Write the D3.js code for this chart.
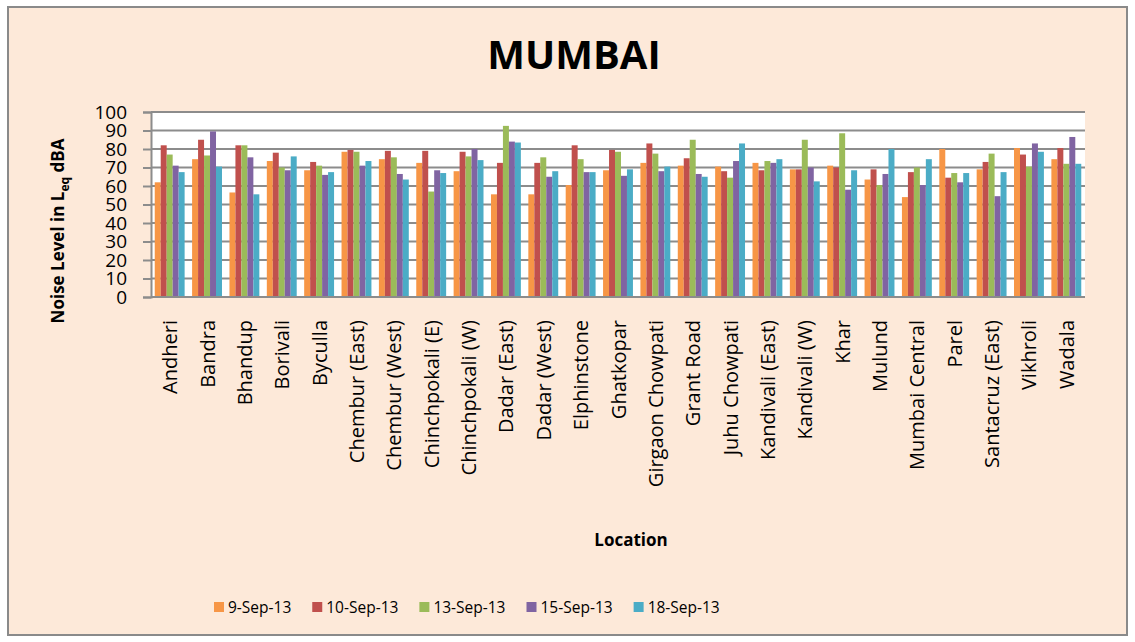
<!DOCTYPE html>
<html>
<head>
<meta charset="utf-8">
<script src="https://cdn.jsdelivr.net/npm/d3@7"></script>
<style>
  body { margin: 0; background: #fff; }
  text { font-family: "Open Sans", sans-serif; fill: #000; }
</style>
</head>
<body>
<div id="chart"></div>
<script>
const locations = ["Andheri", "Bandra", "Bhandup", "Borivali", "Byculla", "Chembur (East)", "Chembur (West)",
    "Chinchpokali (E)", "Chinchpokali (W)", "Dadar (East)", "Dadar (West)", "Elphinstone", "Ghatkopar",
    "Girgaon Chowpati", "Grant Road", "Juhu Chowpati", "Kandivali (East)", "Kandivali (W)", "Khar", "Mulund",
    "Mumbai Central", "Parel", "Santacruz (East)", "Vikhroli", "Wadala"];
const dates = ["9-Sep-13", "10-Sep-13", "13-Sep-13", "15-Sep-13", "18-Sep-13"];

const sep9  = [62, 74.5, 56.5, 73.5, 68.5, 78.5, 74.5, 72.5, 68, 55.5, 55.5, 60.5, 68.5, 72.5, 71, 70.5, 72.5, 69, 71, 63.5, 54, 80, 69, 80.5, 74.5];
const sep10 = [82, 85, 82, 78, 73, 79.5, 79, 79, 78.5, 72.5, 72.5, 82, 79.5, 83, 75, 68, 68.5, 69, 70, 69, 67.5, 64.5, 73, 77, 80.5];
const sep13 = [77, 76.5, 82, 70, 71, 78.5, 75.5, 57, 76, 92.5, 75.5, 74.5, 78.5, 77.5, 85, 64.5, 73.5, 85, 88.5, 60.5, 70, 67, 77.5, 70.5, 72];
const sep15 = [71, 89.5, 75.5, 68.5, 66, 71, 66.5, 68.5, 80, 84, 65, 67.5, 65.5, 68, 66.5, 73.5, 72.5, 70, 58, 66.5, 60.5, 62, 54.5, 83, 86.5];
const sep18 = [67.5, 70.5, 55.5, 76, 67.5, 73.5, 63.5, 67, 74, 83.5, 68, 67.5, 69, 70.5, 65, 83, 74.5, 62.5, 68.5, 80, 74.5, 67, 67.5, 78.5, 72];
const yTicks = [0, 10, 20, 30, 40, 50, 60, 70, 80, 90, 100];

const series = [sep9, sep10, sep13, sep15, sep18];
const colors = ["#F79646", "#C0504D", "#9BBB59", "#8064A2", "#4BACC6"];

const W = 1135, H = 642;
const plot = { left: 151, right: 1085, top: 112, bottom: 297 };

const svg = d3.select("#chart").append("svg")
    .attr("width", W)
    .attr("height", H);

// chart area background + border
svg.append("rect")
    .attr("x", 8).attr("y", 7)
    .attr("width", 1119).attr("height", 628)
    .attr("fill", "#FDE9D9")
    .attr("stroke", "#8a8a8a")
    .attr("stroke-width", 2);

// plot area
svg.append("rect")
    .attr("x", plot.left).attr("y", plot.top)
    .attr("width", plot.right - plot.left).attr("height", plot.bottom - plot.top)
    .attr("fill", "#fff");

const x = d3.scaleBand()
    .domain(locations)
    .range([plot.left, plot.right])
    .paddingInner(0.2)
    .paddingOuter(0.1);

const xInner = d3.scaleBand()
    .domain(dates)
    .range([0, x.bandwidth()]);

const y = d3.scaleLinear()
    .domain([0, 100])
    .range([plot.bottom, plot.top]);

// gridlines
svg.append("g")
    .selectAll("line")
    .data(yTicks.filter(t => t > 0))
    .join("line")
    .attr("x1", plot.left).attr("x2", plot.right)
    .attr("y1", d => y(d)).attr("y2", d => y(d))
    .attr("stroke", "#8c8c8c")
    .attr("stroke-width", 2);

// y axis
const yAxis = svg.append("g")
    .attr("transform", `translate(${plot.left},0)`)
    .call(d3.axisLeft(y).tickValues(yTicks).tickSize(8).tickPadding(16));
yAxis.select(".domain").attr("stroke", "#8c8c8c").attr("stroke-width", 2);
yAxis.selectAll(".tick line").attr("stroke", "#8c8c8c").attr("stroke-width", 2);
yAxis.selectAll(".tick text")
    .attr("font-size", "19px")
    .attr("font-family", "Open Sans, sans-serif")
    .attr("fill", "#000");

// bars
const groups = svg.append("g")
    .selectAll("g")
    .data(series)
    .join("g")
    .attr("fill", (d, i) => colors[i]);

groups.selectAll("rect")
    .data((vals, si) => vals.map((v, li) => ({ v, li, si })))
    .join("rect")
    .attr("x", d => x(locations[d.li]) + xInner(dates[d.si]))
    .attr("y", d => y(d.v))
    .attr("width", xInner.bandwidth())
    .attr("height", d => y(0) - y(d.v));

// x axis line
svg.append("line")
    .attr("x1", plot.left).attr("x2", plot.right)
    .attr("y1", plot.bottom).attr("y2", plot.bottom)
    .attr("stroke", "#8c8c8c")
    .attr("stroke-width", 2);

// category labels (rotated, end anchored under the axis)
svg.append("g")
    .selectAll("text")
    .data(locations)
    .join("text")
    .attr("transform", d => `translate(${x(d) + x.bandwidth() / 2},320) rotate(-90)`)
    .attr("text-anchor", "end")
    .attr("dominant-baseline", "central")
    .attr("font-size", "20px")
    .text(d => d);

// title
svg.append("text")
    .attr("x", 574).attr("y", 69)
    .attr("text-anchor", "middle")
    .attr("font-size", "40px")
    .attr("font-weight", "bold")
    .text("MUMBAI");

// axis titles
svg.append("text")
    .attr("x", 631).attr("y", 546)
    .attr("text-anchor", "middle")
    .attr("font-size", "17px")
    .attr("font-weight", "bold")
    .text("Location");

const yTitle = svg.append("text")
    .attr("transform", "translate(64,231) rotate(-90)")
    .attr("text-anchor", "middle")
    .attr("font-size", "17px")
    .attr("font-weight", "bold");
yTitle.append("tspan").text("Noise Level in L");
yTitle.append("tspan").attr("font-size", "12px").attr("dy", 5).text("eq");
yTitle.append("tspan").attr("dy", -5).text(" dBA");

// legend
const legend = svg.append("g");
let lx = 214;
dates.forEach((d, i) => {
    legend.append("rect")
        .attr("x", lx).attr("y", 602)
        .attr("width", 10).attr("height", 10)
        .attr("fill", colors[i]);
    const t = legend.append("text")
        .attr("x", lx + 14).attr("y", 607)
        .attr("dominant-baseline", "central")
        .attr("font-size", "15.5px")
        .text(d);
    lx += 14 + t.node().getComputedTextLength() + 21;
});
</script>
</body>
</html>
